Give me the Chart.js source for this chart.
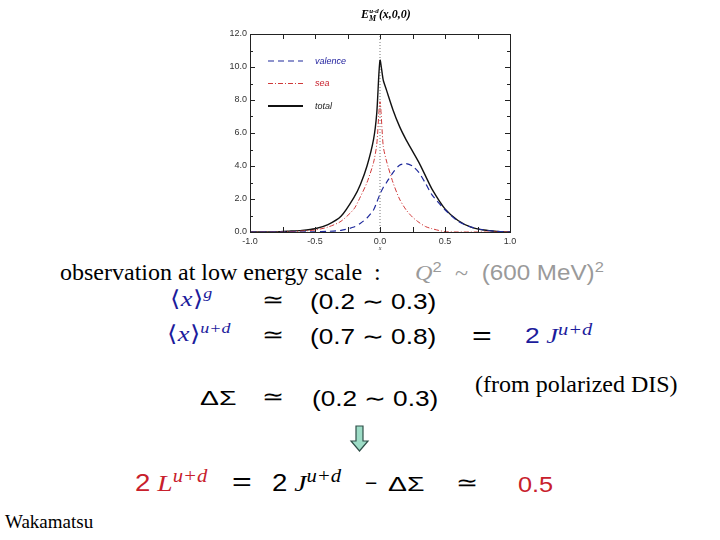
<!DOCTYPE html>
<html>
<head>
<meta charset="utf-8">
<script src="https://cdn.jsdelivr.net/npm/chart.js@4"></script>
<style>
  html, body { margin: 0; padding: 0; background: #fff; }
  #page { position: relative; width: 720px; height: 540px; overflow: hidden; }
  #chartBox { position: absolute; left: 0; top: 0; width: 720px; height: 252px; }
  .t { position: absolute; white-space: nowrap; line-height: 1; transform-origin: 0 0; }
  .serif { font-family: "Liberation Serif", "Times New Roman", serif; }
  .sans { font-family: "Liberation Sans", Arial, sans-serif; }
  .mi { font-family: "Liberation Serif", serif; font-style: italic; }
  .br { font-family: "DejaVu Sans", sans-serif; font-style: normal; font-weight: 200; }
  .blue { color: #1c1c9c; }
  .red { color: #c8202c; }
  .gray { color: #9a9a9a; }
  sup, sub { line-height: 0; }
</style>
</head>
<body>
<div id="page">
  <div id="chartBox"><canvas id="chart"></canvas></div>

  <!-- chart title -->
  <div class="t mi" style="left:361px; top:8px; font-size:12px; font-weight:bold;">E<sub style="font-size:8px;">M</sub><sup style="font-size:7px; margin-left:-7px;">u-d</sup>(x,0,0)</div>

  <div class="t serif" style="left:60px; top:259.5px; font-size:24px;">observation at low energy scale &nbsp;:</div>
  <div class="t sans gray" style="left:415px; top:262px; font-size:22px; transform:scaleX(1.1);"><span class="mi">Q</span><sup style="font-size:15px;">2</sup> &nbsp;<span class="serif">~</span>&nbsp; (600 MeV)<sup style="font-size:15px;">2</sup></div>

  <div class="t blue mi" style="left:170px; top:288px; font-size:22px; transform:scaleX(1.2);"><span class="br">⟨</span>x<span class="br">⟩</span><sup style="font-size:15px;">g</sup></div>
  <div class="t sans" style="left:262px; top:289px; font-size:22px; transform:scaleX(1.2);">≃</div>
  <div class="t sans" style="left:310px; top:291px; font-size:22px; transform:scaleX(1.19);">(0.2 ∼ 0.3)</div>

  <div class="t blue mi" style="left:167px; top:323px; font-size:22px; transform:scaleX(1.2);"><span class="br">⟨</span>x<span class="br">⟩</span><sup style="font-size:15px;">u+d</sup></div>
  <div class="t sans" style="left:262px; top:324px; font-size:22px; transform:scaleX(1.2);">≃</div>
  <div class="t sans" style="left:310px; top:326px; font-size:22px; transform:scaleX(1.19);">(0.7 ∼ 0.8)</div>
  <div class="t sans" style="left:472px; top:322px; font-size:26px; transform:scaleX(1.3);">=</div>
  <div class="t blue" style="left:525px; top:325px; font-size:22px; transform:scaleX(1.2);"><span class="sans">2</span> <span class="mi">J</span><sup class="mi" style="font-size:17px;">u+d</sup></div>

  <div class="t serif" style="left:475px; top:372px; font-size:24px;">(from polarized DIS)</div>

  <div class="t sans" style="left:200px; top:387px; font-size:21px; transform:scaleX(1.35);">ΔΣ</div>
  <div class="t sans" style="left:262px; top:386px; font-size:22px; transform:scaleX(1.2);">≃</div>
  <div class="t sans" style="left:312px; top:388px; font-size:22px; transform:scaleX(1.19);">(0.2 ∼ 0.3)</div>

  <svg class="t" style="left:348px; top:424px;" width="24" height="30">
    <path d="M8 2 H15 V17 H20 L11.5 27 L3 17 H8 Z" fill="#9ddcc6" stroke="#2f4f48" stroke-width="1.2"/>
  </svg>

  <div class="t red" style="left:135px; top:471px; font-size:24px; transform:scaleX(1.15);"><span class="sans">2</span> <span class="mi">L</span><sup class="mi" style="font-size:18px;">u+d</sup></div>
  <div class="t sans" style="left:232px; top:468px; font-size:26px; transform:scaleX(1.3);">=</div>
  <div class="t" style="left:272px; top:471px; font-size:24px; transform:scaleX(1.15);"><span class="sans">2</span> <span class="mi">J</span><sup class="mi" style="font-size:18px;">u+d</sup></div>
  <div class="t sans" style="left:365px; top:472px; font-size:21px;">−</div>
  <div class="t sans" style="left:388px; top:473px; font-size:21px; transform:scaleX(1.35);">ΔΣ</div>
  <div class="t sans" style="left:456px; top:472px; font-size:22px; transform:scaleX(1.2);">≃</div>
  <div class="t sans red" style="left:518px; top:474px; font-size:22px; transform:scaleX(1.15);">0.5</div>

  <div class="t serif" style="left:5px; top:512px; font-size:19px;">Wakamatsu</div>
</div>

<script>
// x values of the sampled curves
const xValues = [-1.0, -0.8, -0.7, -0.6, -0.5, -0.4, -0.3, -0.2, -0.15, -0.1, -0.05, -0.025, 0,
                 0.025, 0.05, 0.1, 0.15, 0.2, 0.25, 0.3, 0.35, 0.4, 0.5, 0.6, 0.7, 0.8, 0.9, 1.0];
const valence = [0, 0, 0, 0, 0.01, 0.04, 0.1, 0.3, 0.53, 0.85, 1.33, 1.8, 2.3,
                 2.7, 3.0, 3.6, 4.05, 4.15, 4.0, 3.6, 2.95, 2.25, 1.35, 0.65, 0.3, 0.12, 0.04, 0];
const sea = [0, 0, 0.02, 0.06, 0.12, 0.3, 0.65, 1.4, 2.15, 3.0, 4.2, 5.3, 7.9,
             5.2, 4.3, 3.0, 2.0, 1.35, 0.9, 0.58, 0.33, 0.2, 0.02, 0, 0, 0, 0, 0];
const total = [0, 0.01, 0.05, 0.1, 0.2, 0.45, 0.95, 2.1, 2.9, 4.0, 5.6, 7.2, 10.4,
               9.2, 8.6, 7.4, 6.4, 5.6, 4.9, 4.2, 3.4, 2.6, 1.4, 0.7, 0.3, 0.12, 0.04, 0];
const zeroLine = [{x: 0, y: 0}, {x: 0, y: 12}];

const yTicks = ['0.0', '2.0', '4.0', '6.0', '8.0', '10.0', '12.0'];
const xTicks = ['-1.0', '-0.5', '0.0', '0.5', '1.0'];

function pts(ys) {
    return xValues.map((x, i) => ({x: x, y: ys[i]}));
}

// frame, inward ticks and in-plot legend
const framePlugin = {
    id: 'frame',
    afterDatasetsDraw(chart) {
        const ctx = chart.ctx;
        const a = chart.chartArea;
        const xs = chart.scales.x, ys = chart.scales.y;
        ctx.save();
        ctx.strokeStyle = '#222';
        ctx.lineWidth = 1;
        ctx.strokeRect(a.left + 0.5, a.top + 0.5, a.right - a.left, a.bottom - a.top);
        ctx.beginPath();
        for (let v = -0.75; v <= 0.751; v += 0.25) {
            const px = Math.round(xs.getPixelForValue(v)) + 0.5;
            ctx.moveTo(px, a.bottom); ctx.lineTo(px, a.bottom - 5);
            ctx.moveTo(px, a.top); ctx.lineTo(px, a.top + 5);
        }
        for (let v = 1; v < 12; v += 1) {
            const py = Math.round(ys.getPixelForValue(v)) + 0.5;
            const len = v % 2 === 0 ? 5 : 3;
            ctx.moveTo(a.left, py); ctx.lineTo(a.left + len, py);
            ctx.moveTo(a.right, py); ctx.lineTo(a.right - len, py);
        }
        ctx.stroke();

        // legend
        const items = chart.data.datasets.filter(d => d.label);
        ctx.font = 'italic 9px "Liberation Sans", Arial, sans-serif';
        ctx.textBaseline = 'middle';
        items.forEach((d, i) => {
            const y = a.top + 27 + i * 22.5;
            ctx.beginPath();
            ctx.strokeStyle = d.borderColor;
            ctx.lineWidth = d.label === 'total' ? 2 : d.borderWidth;
            ctx.setLineDash(d.borderDash || []);
            ctx.moveTo(a.left + 18, y); ctx.lineTo(a.left + 53, y);
            ctx.stroke();
            ctx.setLineDash([]);
            ctx.fillStyle = d.labelColor;
            ctx.fillText(d.label, a.left + 65, y);
        });
        ctx.restore();
    }
};

const ctx = document.getElementById('chart');
new Chart(ctx, {
    type: 'line',
    data: {
        datasets: [
            {
                label: 'valence', data: pts(valence), labelColor: '#1c1c9c',
                borderColor: '#1f2a9c', borderWidth: 1.2, borderDash: [6, 4],
                pointRadius: 0, tension: 0.25, fill: false
            },
            {
                label: 'sea', data: pts(sea), labelColor: '#c8202c',
                borderColor: '#d03a3a', borderWidth: 1, borderDash: [5, 2, 1, 2],
                pointRadius: 0, tension: 0.25, fill: false
            },
            {
                label: 'total', data: pts(total), labelColor: '#222',
                borderColor: '#111', borderWidth: 1.4,
                pointRadius: 0, tension: 0.25, fill: false
            },
            {
                label: '', data: zeroLine, borderColor: '#777', borderWidth: 1,
                borderDash: [1, 2], pointRadius: 0, fill: false
            }
        ]
    },
    options: {
        responsive: true,
        maintainAspectRatio: false,
        animation: false,
        layout: { padding: { left: 210, right: 210, top: 34, bottom: 0 } },
        plugins: { legend: { display: false }, tooltip: { enabled: false } },
        scales: {
            x: {
                type: 'linear', min: -1, max: 1,
                afterFit(s) { s.height = 20; },
                grid: { display: false, drawTicks: false },
                border: { display: false },
                afterBuildTicks(s) { s.ticks = xTicks.map(t => ({value: parseFloat(t)})); },
                ticks: {
                    padding: 4, color: '#333', maxRotation: 0,
                    font: { family: '"Liberation Sans", Arial, sans-serif', size: 9 },
                    callback: (v) => v.toFixed(1)
                },
                title: { display: true, text: 'x', padding: 0, color: '#333',
                         font: { family: '"Liberation Serif", serif', style: 'italic', size: 6 } }
            },
            y: {
                min: 0, max: 12,
                afterFit(s) { s.width = 40; },
                grid: { display: false, drawTicks: false },
                border: { display: false },
                afterBuildTicks(s) { s.ticks = yTicks.map(t => ({value: parseFloat(t)})); },
                ticks: {
                    padding: 3, color: '#333',
                    font: { family: '"Liberation Sans", Arial, sans-serif', size: 9 },
                    callback: (v) => v.toFixed(1)
                }
            }
        }
    },
    plugins: [framePlugin]
});
</script>
</body>
</html>
